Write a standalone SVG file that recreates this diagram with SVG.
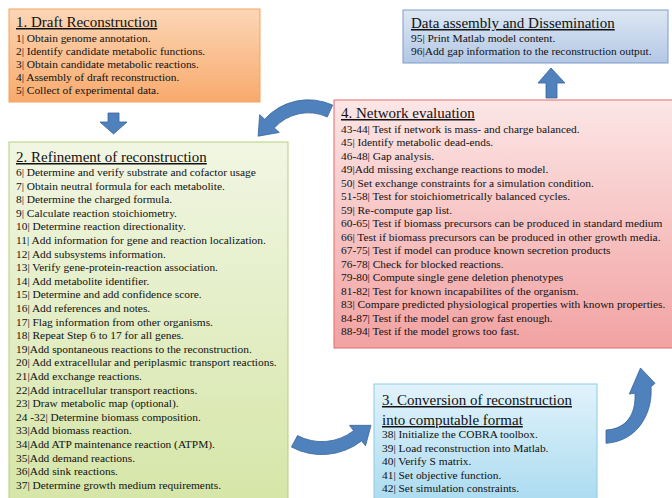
<svg xmlns="http://www.w3.org/2000/svg" width="672" height="498" viewBox="0 0 672 498">
<defs>
<linearGradient id="gOrange" x1="0" y1="0" x2="0" y2="1"><stop offset="0" stop-color="#fcd6b6"/><stop offset="1" stop-color="#f8aa6c"/></linearGradient>
<linearGradient id="gGreen" x1="0" y1="0" x2="0" y2="1"><stop offset="0" stop-color="#f1f6e3"/><stop offset="1" stop-color="#d5e5a6"/></linearGradient>
<linearGradient id="gPink" x1="0" y1="0" x2="0" y2="1"><stop offset="0" stop-color="#fce6e6"/><stop offset="1" stop-color="#f2a2a2"/></linearGradient>
<linearGradient id="gBlue" x1="0" y1="0" x2="0" y2="1"><stop offset="0" stop-color="#dde7f3"/><stop offset="1" stop-color="#b3c8e5"/></linearGradient>
<linearGradient id="gCyan" x1="0" y1="0" x2="0" y2="1"><stop offset="0" stop-color="#e1f3fb"/><stop offset="1" stop-color="#a7d9ef"/></linearGradient>
<style>
text{font-family:"Liberation Serif","DejaVu Serif",serif;fill:#111}
.ttl{font-size:15px;text-decoration:underline}
.bd{font-size:11.4px}
.arr{fill:#4f81bd;stroke:#3a659a;stroke-width:0.8}
</style>
</defs>

<g id="draft" font-family="Liberation Serif, DejaVu Serif, serif">
<rect x="9" y="9" width="251" height="93" fill="url(#gOrange)" stroke="#f5a25e" stroke-width="1"/>
<text class="ttl" x="16" y="27">1. Draft Reconstruction</text>
<text class="bd"><tspan x="16" y="42">1| Obtain genome annotation.</tspan><tspan x="16" y="55.1">2| Identify candidate metabolic functions.</tspan><tspan x="16" y="68.2">3| Obtain candidate metabolic reactions.</tspan><tspan x="16" y="81.3">4| Assembly of draft reconstruction.</tspan><tspan x="16" y="94.4">5| Collect of experimental data.</tspan></text>
</g>

<g id="refinement" font-family="Liberation Serif, DejaVu Serif, serif">
<rect x="9" y="142" width="279" height="370" fill="url(#gGreen)" stroke="#b5cf7a" stroke-width="1"/>
<text class="ttl" x="16" y="162">2. Refinement of reconstruction</text>
<text class="bd"><tspan x="16" y="176">6| Determine and verify substrate and cofactor usage</tspan><tspan x="16" y="189.6">7| Obtain neutral formula for each metabolite.</tspan><tspan x="16" y="203.2">8| Determine the charged formula.</tspan><tspan x="16" y="216.8">9| Calculate reaction stoichiometry.</tspan><tspan x="16" y="230.4">10| Determine reaction directionality.</tspan><tspan x="16" y="244">11| Add information for gene and reaction localization.</tspan><tspan x="16" y="257.6">12| Add subsystems information.</tspan><tspan x="16" y="271.2">13| Verify gene-protein-reaction association.</tspan><tspan x="16" y="284.8">14| Add metabolite identifier.</tspan><tspan x="16" y="298.4">15| Determine and add confidence score.</tspan><tspan x="16" y="312">16| Add references and notes.</tspan><tspan x="16" y="325.6">17| Flag information from other organisms.</tspan><tspan x="16" y="339.2">18| Repeat Step 6 to 17 for all genes.</tspan><tspan x="16" y="352.8">19|Add spontaneous reactions to the reconstruction.</tspan><tspan x="16" y="366.4">20| Add extracellular and periplasmic transport reactions.</tspan><tspan x="16" y="380">21|Add exchange reactions.</tspan><tspan x="16" y="393.6">22|Add intracellular transport reactions.</tspan><tspan x="16" y="407.2">23| Draw metabolic map (optional).</tspan><tspan x="16" y="420.8">24 -32| Determine biomass composition.</tspan><tspan x="16" y="434.4">33|Add biomass reaction.</tspan><tspan x="16" y="448">34|Add ATP maintenance reaction (ATPM).</tspan><tspan x="16" y="461.6">35|Add demand reactions.</tspan><tspan x="16" y="475.2">36|Add sink reactions.</tspan><tspan x="16" y="488.8">37| Determine growth medium requirements.</tspan></text>
</g>

<g id="evaluation" font-family="Liberation Serif, DejaVu Serif, serif">
<rect x="334" y="100" width="345" height="248" fill="url(#gPink)" stroke="#e36a6a" stroke-width="1"/>
<text class="ttl" x="341" y="118">4. Network evaluation</text>
<text class="bd"><tspan x="341" y="132.5">43-44| Test if network is mass- and charge balanced.</tspan><tspan x="341" y="146">45| Identify metabolic dead-ends.</tspan><tspan x="341" y="159.5">46-48| Gap analysis.</tspan><tspan x="341" y="173">49|Add missing exchange reactions to model.</tspan><tspan x="341" y="186.5">50| Set exchange constraints for a simulation condition.</tspan><tspan x="341" y="200">51-58| Test for stoichiometrically balanced cycles.</tspan><tspan x="341" y="213.5">59| Re-compute gap list.</tspan><tspan x="341" y="227">60-65| Test if biomass precursors can be produced in standard medium</tspan><tspan x="341" y="240.5">66| Test if biomass precursors can be produced in other growth media.</tspan><tspan x="341" y="254">67-75| Test if model can produce known secretion products</tspan><tspan x="341" y="267.5">76-78| Check for blocked reactions.</tspan><tspan x="341" y="281">79-80| Compute single gene deletion phenotypes</tspan><tspan x="341" y="294.5">81-82| Test for known incapabilites of the organism.</tspan><tspan x="341" y="308">83| Compare predicted physiological properties with known properties.</tspan><tspan x="341" y="321.5">84-87| Test if the model can grow fast enough.</tspan><tspan x="341" y="335">88-94| Test if the model grows too fast.</tspan></text>
</g>

<g id="dissemination" font-family="Liberation Serif, DejaVu Serif, serif">
<rect x="403" y="10" width="265" height="53" fill="url(#gBlue)" stroke="#7d9dc9" stroke-width="1"/>
<text class="ttl" x="411" y="28">Data assembly and Dissemination</text>
<text class="bd"><tspan x="411" y="42">95| Print Matlab model content.</tspan><tspan x="411" y="55">96|Add gap information to the reconstruction output.</tspan></text>
</g>

<g id="conversion" font-family="Liberation Serif, DejaVu Serif, serif">
<rect x="374" y="384" width="223" height="128" fill="url(#gCyan)" stroke="#8ccbe3" stroke-width="1"/>
<text class="ttl" x="382" y="405">3. Conversion of reconstruction</text>
<text class="ttl" x="382" y="425">into computable format</text>
<text class="bd"><tspan x="382" y="438">38| Initialize the COBRA toolbox.</tspan><tspan x="382" y="451.5">39| Load reconstruction into Matlab.</tspan><tspan x="382" y="465">40| Verify S matrix.</tspan><tspan x="382" y="478.5">41| Set objective function.</tspan><tspan x="382" y="492">42| Set simulation constraints.</tspan></text>
</g>

<g id="connectors">
<polygon class="arr" points="108,113 119,113 119,122 127,122 113.5,134 100,122 108,122"/>
<path class="arr" d="M332.7,105.1 A58.7,58.7 0 0 0 264.68,119.22 L259.63,114.67 L258.14,136.2 L279.32,132.41 L274.34,127.92 A45.7,45.7 0 0 1 327.3,116.95 Z"/>
<path class="arr" d="M291.42,447.02 A64.7,64.7 0 0 0 361.63,440.88 L365.51,445.85 L371,425.3 L349.51,425.36 L353.63,430.64 A51.7,51.7 0 0 1 297.53,435.55 Z"/>
<path class="arr" d="M651,386.7 C653,410 640,441 606,443.3 L606,430 C626,429 636,415 635,393.3 L629.3,394 L640.5,368 L655,383.3 Z"/>
<polygon class="arr" points="551,68 565,83 557,83 557,98 546,98 546,83 538,83"/>
</g>
</svg>
